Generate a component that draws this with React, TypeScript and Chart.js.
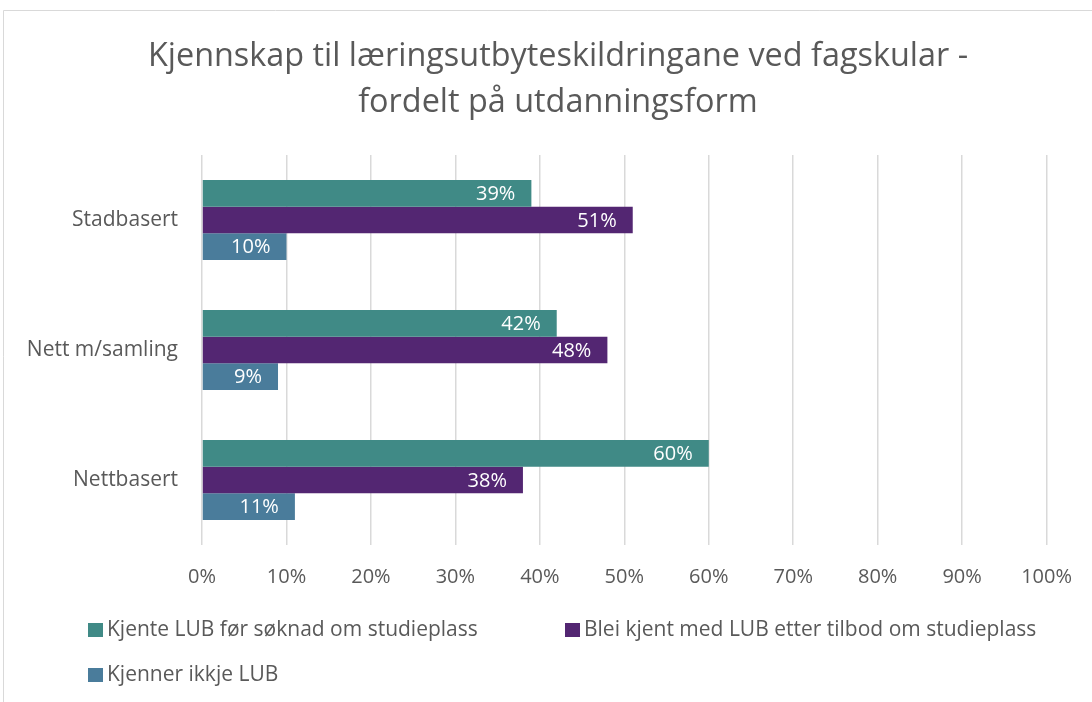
import React, { useEffect, useRef } from "react";
import { Chart, registerables } from "chart.js";

Chart.register(...registerables);

const categories = ["Stadbasert", "Nett m/samling", "Nettbasert"];
const seriesNames = [
  "Kjente LUB før søknad om studieplass",
  "Blei kjent med LUB etter tilbod om studieplass",
  "Kjenner ikkje LUB",
];
const seriesBefore = [39, 42, 60];
const seriesAfter = [51, 48, 38];
const seriesUnknown = [10, 9, 11];
const seriesColors = ["#408a86", "#532672", "#4a7c9b"];
const titleLines = [
  "Kjennskap til læringsutbyteskildringane ved fagskular -",
  "fordelt på utdanningsform",
];
const FONT = "'Open Sans', sans-serif";
const TEXT = "#595959";

const framePlugin = {
  id: "frame",
  beforeDraw(chart: any) {
    const ctx = chart.ctx;
    ctx.save();
    ctx.fillStyle = "#ffffff";
    ctx.fillRect(0, 0, chart.width, chart.height);
    ctx.strokeStyle = "#d9d9d9";
    ctx.lineWidth = 1;
    ctx.beginPath();
    ctx.moveTo(3.5, chart.height);
    ctx.lineTo(3.5, 10.5);
    ctx.lineTo(chart.width, 10.5);
    ctx.stroke();
    ctx.fillStyle = TEXT;
    ctx.font = `32.4px ${FONT}`;
    ctx.textAlign = "center";
    ctx.textBaseline = "alphabetic";
    ctx.fillText(titleLines[0], 558, 66);
    ctx.fillText(titleLines[1], 558, 112);
    ctx.restore();
  },
};

const labelsPlugin = {
  id: "barLabels",
  afterDatasetsDraw(chart: any) {
    const ctx = chart.ctx;
    ctx.save();
    ctx.fillStyle = "#ffffff";
    ctx.font = `20px ${FONT}`;
    ctx.textAlign = "right";
    ctx.textBaseline = "middle";
    chart.data.datasets.forEach((ds: any, i: number) => {
      const meta = chart.getDatasetMeta(i);
      meta.data.forEach((bar: any, j: number) => {
        ctx.fillText(`${ds.data[j]}%`, bar.x - 16, bar.y + 1);
      });
    });
    ctx.restore();
  },
};

const legendPlugin = {
  id: "customLegend",
  afterDraw(chart: any) {
    const ctx = chart.ctx;
    const positions = [
      [88, 630],
      [565, 630],
      [88, 675],
    ];
    ctx.save();
    ctx.font = `21px ${FONT}`;
    ctx.textAlign = "left";
    ctx.textBaseline = "middle";
    chart.data.datasets.forEach((ds: any, i: number) => {
      const [x, y] = positions[i];
      ctx.fillStyle = ds.backgroundColor;
      ctx.fillRect(x, y - 7, 15, 14);
      ctx.fillStyle = TEXT;
      ctx.fillText(ds.label, x + 19, y);
    });
    ctx.restore();
  },
};

export default function App() {
  const ref = useRef<HTMLCanvasElement>(null);
  useEffect(() => {
    if (!ref.current) return;
    const chart = new Chart(ref.current, {
      type: "bar",
      data: {
        labels: categories,
        datasets: [
          { label: seriesNames[0], data: seriesBefore, backgroundColor: seriesColors[0] },
          { label: seriesNames[1], data: seriesAfter, backgroundColor: seriesColors[1] },
          { label: seriesNames[2], data: seriesUnknown, backgroundColor: seriesColors[2] },
        ],
      },
      options: {
        indexAxis: "y",
        responsive: false,
        animation: false,
        layout: { padding: { top: 155, right: 42, left: 0, bottom: 0 } },
        datasets: { bar: { categoryPercentage: 0.615, barPercentage: 1 } },
        plugins: {
          legend: { display: false },
          title: { display: false },
          tooltip: { enabled: false },
        },
        scales: {
          x: {
            min: 0,
            max: 100,
            ticks: {
              stepSize: 10,
              color: TEXT,
              font: { family: FONT, size: 20 },
              padding: 20,
              callback: (v: any) => `${v}%`,
            },
            grid: { color: "#d9d9d9", lineWidth: 1.5, drawTicks: false },
            border: { display: false },
            afterFit: (s: any) => {
              s.height = 157;
            },
          },
          y: {
            ticks: {
              color: TEXT,
              font: { family: FONT, size: 21 },
              padding: 24,
            },
            grid: { display: false, drawTicks: false },
            border: { display: false },
            afterFit: (s: any) => {
              s.width = 202;
            },
          },
        },
      },
      plugins: [framePlugin, labelsPlugin, legendPlugin],
    });
    return () => chart.destroy();
  }, []);
  return (
    <div style={{ position: "absolute", left: 0, top: 0, width: 1092, height: 702 }}>
      <canvas ref={ref} width={1092} height={702} />
    </div>
  );
}
